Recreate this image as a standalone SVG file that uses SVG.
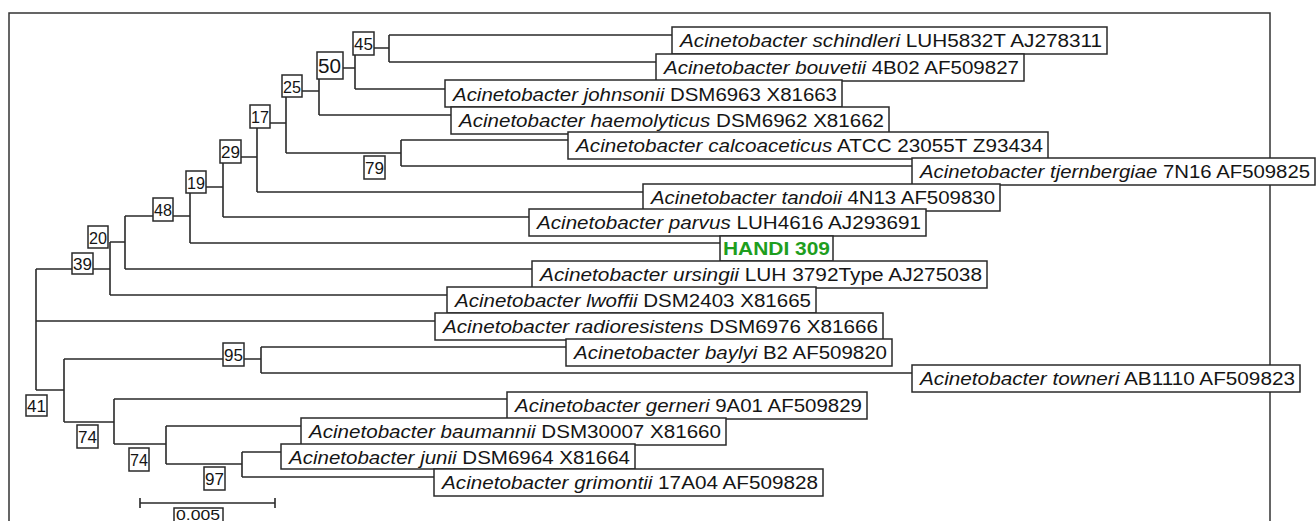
<svg xmlns="http://www.w3.org/2000/svg" width="1316" height="521" viewBox="0 0 1316 521">
<style>
.ln{fill:none;stroke:#2a2a2a;stroke-width:1.6}
.bx{fill:#fff;stroke:#2a2a2a;stroke-width:1.5}
.lf{font-family:"Liberation Sans",Arial,sans-serif;font-size:18px;fill:#151515}
.it{font-style:italic}
.bs{font-family:"Liberation Sans",Arial,sans-serif;font-size:17px;fill:#151515}
.hd{font-family:"Liberation Sans",Arial,sans-serif;font-size:18px;font-weight:bold;fill:#1e9e1e}
</style>
<rect x="0" y="0" width="1316" height="521" fill="#fff"/>
<rect id="frame" x="9" y="13" width="1261" height="600" fill="none" stroke="#333" stroke-width="1.5"/>
<g id="connectors" class="ln">
<path d="M36 269 V390"/>
<path d="M36 269 H110 M110 242 V295"/>
<path d="M110 242 H125 M125 216 V269"/>
<path d="M125 216 H190 M190 187 V243"/>
<path d="M190 187 H223 M223 157 V217"/>
<path d="M223 157 H257 M257 123 V192"/>
<path d="M257 123 H286 M286 91 V153"/>
<path d="M286 91 H319 M319 68 V115"/>
<path d="M319 68 H355 M355 48 V89"/>
<path d="M355 48 H389 M389 35 V62"/>
<path d="M286 153 H401 M401 140 V166"/>
<path d="M389 35 H672 M389 62 H656 M355 89 H445 M319 115 H451 M401 140 H568 M401 166 H912 M257 192 H643 M223 217 H529 M190 243 H720 M125 269 H532 M110 295 H447 M36 321 H435"/>
<path d="M36 390 H64 M64 359 V422"/>
<path d="M64 359 H261 M261 347 V373"/>
<path d="M261 347 H566 M261 373 H912"/>
<path d="M64 422 H114 M114 399 V444 M114 399 H507"/>
<path d="M114 444 H166 M166 426 V464 M166 426 H301"/>
<path d="M166 464 H242 M242 452 V477 M242 452 H281 M242 477 H434"/>
</g>
<g id="scalebar" class="ln">
<path d="M140 503 H275 M140 498 V508 M275 498 V508"/>
</g>
<g id="scale-label"><rect class="bx" x="174" y="508" width="49" height="24"/><text class="bs" x="176" y="520" style="font-size:14px" textLength="44" lengthAdjust="spacingAndGlyphs">0.005</text></g>

<g id="leaf-schindleri"><rect class="bx" x="672" y="27" width="435" height="27"/><text class="lf" x="680" y="47" textLength="422" lengthAdjust="spacingAndGlyphs"><tspan class="it">Acinetobacter schindleri</tspan> LUH5832T AJ278311</text></g>
<g id="leaf-bouvetii"><rect class="bx" x="656" y="54" width="368" height="27"/><text class="lf" x="664" y="74" textLength="355" lengthAdjust="spacingAndGlyphs"><tspan class="it">Acinetobacter bouvetii</tspan> 4B02 AF509827</text></g>
<g id="leaf-johnsonii"><rect class="bx" x="445" y="80" width="397" height="27"/><text class="lf" x="453" y="101" textLength="384" lengthAdjust="spacingAndGlyphs"><tspan class="it">Acinetobacter johnsonii</tspan> DSM6963 X81663</text></g>
<g id="leaf-haemolyticus"><rect class="bx" x="451" y="107" width="438" height="27"/><text class="lf" x="459" y="127" textLength="425" lengthAdjust="spacingAndGlyphs"><tspan class="it">Acinetobacter haemolyticus</tspan> DSM6962 X81662</text></g>
<g id="leaf-calcoaceticus"><rect class="bx" x="568" y="132" width="480" height="27"/><text class="lf" x="576" y="152" textLength="467" lengthAdjust="spacingAndGlyphs"><tspan class="it">Acinetobacter calcoaceticus</tspan> ATCC 23055T Z93434</text></g>
<g id="leaf-tjernbergiae"><rect class="bx" x="912" y="158" width="403" height="27"/><text class="lf" x="920" y="178" textLength="390" lengthAdjust="spacingAndGlyphs"><tspan class="it">Acinetobacter tjernbergiae</tspan> 7N16 AF509825</text></g>
<g id="leaf-tandoii"><rect class="bx" x="643" y="184" width="357" height="27"/><text class="lf" x="651" y="204" textLength="344" lengthAdjust="spacingAndGlyphs"><tspan class="it">Acinetobacter tandoii</tspan> 4N13 AF509830</text></g>
<g id="leaf-parvus"><rect class="bx" x="529" y="209" width="397" height="27"/><text class="lf" x="537" y="229" textLength="384" lengthAdjust="spacingAndGlyphs"><tspan class="it">Acinetobacter parvus</tspan> LUH4616 AJ293691</text></g>
<g id="leaf-handi309"><rect class="bx" x="720" y="236" width="113" height="25"/><text class="hd" x="723" y="255" textLength="107" lengthAdjust="spacingAndGlyphs">HANDI 309</text></g>
<g id="leaf-ursingii"><rect class="bx" x="532" y="261" width="455" height="27"/><text class="lf" x="540" y="281" textLength="442" lengthAdjust="spacingAndGlyphs"><tspan class="it">Acinetobacter ursingii</tspan> LUH 3792Type AJ275038</text></g>
<g id="leaf-lwoffii"><rect class="bx" x="447" y="287" width="369" height="26"/><text class="lf" x="455" y="307" textLength="356" lengthAdjust="spacingAndGlyphs"><tspan class="it">Acinetobacter lwoffii</tspan> DSM2403 X81665</text></g>
<g id="leaf-radioresistens"><rect class="bx" x="435" y="313" width="448" height="27"/><text class="lf" x="443" y="333" textLength="435" lengthAdjust="spacingAndGlyphs"><tspan class="it">Acinetobacter radioresistens</tspan> DSM6976 X81666</text></g>
<g id="leaf-baylyi"><rect class="bx" x="566" y="339" width="326" height="27"/><text class="lf" x="574" y="359" textLength="313" lengthAdjust="spacingAndGlyphs"><tspan class="it">Acinetobacter baylyi</tspan> B2 AF509820</text></g>
<g id="leaf-towneri"><rect class="bx" x="912" y="365" width="388" height="27"/><text class="lf" x="920" y="385" textLength="375" lengthAdjust="spacingAndGlyphs"><tspan class="it">Acinetobacter towneri</tspan> AB1110 AF509823</text></g>
<g id="leaf-gerneri"><rect class="bx" x="507" y="392" width="360" height="27"/><text class="lf" x="515" y="412" textLength="347" lengthAdjust="spacingAndGlyphs"><tspan class="it">Acinetobacter gerneri</tspan> 9A01 AF509829</text></g>
<g id="leaf-baumannii"><rect class="bx" x="301" y="418" width="425" height="27"/><text class="lf" x="309" y="438" textLength="412" lengthAdjust="spacingAndGlyphs"><tspan class="it">Acinetobacter baumannii</tspan> DSM30007 X81660</text></g>
<g id="leaf-junii"><rect class="bx" x="281" y="444" width="354" height="25"/><text class="lf" x="289" y="464" textLength="341" lengthAdjust="spacingAndGlyphs"><tspan class="it">Acinetobacter junii</tspan> DSM6964 X81664</text></g>
<g id="leaf-grimontii"><rect class="bx" x="434" y="469" width="389" height="27"/><text class="lf" x="442" y="489" textLength="376" lengthAdjust="spacingAndGlyphs"><tspan class="it">Acinetobacter grimontii</tspan> 17A04 AF509828</text></g>

<g id="bs-45"><rect class="bx" x="353" y="32" width="21" height="23"/><text class="bs" x="354" y="50" textLength="19" lengthAdjust="spacingAndGlyphs">45</text></g>
<g id="bs-50"><rect class="bx" x="317" y="52" width="26" height="27"/><text class="bs" x="318" y="73" style="font-size:20px" textLength="23" lengthAdjust="spacingAndGlyphs">50</text></g>
<g id="bs-25"><rect class="bx" x="282" y="75" width="20" height="22"/><text class="bs" x="283" y="93" textLength="18" lengthAdjust="spacingAndGlyphs">25</text></g>
<g id="bs-17"><rect class="bx" x="250" y="105" width="20" height="23"/><text class="bs" x="251" y="123" textLength="18" lengthAdjust="spacingAndGlyphs">17</text></g>
<g id="bs-79"><rect class="bx" x="364" y="156" width="21" height="23"/><text class="bs" x="365" y="174" textLength="19" lengthAdjust="spacingAndGlyphs">79</text></g>
<g id="bs-29"><rect class="bx" x="220" y="140" width="21" height="23"/><text class="bs" x="221" y="158" textLength="19" lengthAdjust="spacingAndGlyphs">29</text></g>
<g id="bs-19"><rect class="bx" x="186" y="171" width="20" height="22"/><text class="bs" x="187" y="189" textLength="18" lengthAdjust="spacingAndGlyphs">19</text></g>
<g id="bs-48"><rect class="bx" x="153" y="198" width="20" height="23"/><text class="bs" x="154" y="216" textLength="18" lengthAdjust="spacingAndGlyphs">48</text></g>
<g id="bs-20"><rect class="bx" x="88" y="226" width="20" height="22"/><text class="bs" x="89" y="244" textLength="18" lengthAdjust="spacingAndGlyphs">20</text></g>
<g id="bs-39"><rect class="bx" x="72" y="253" width="21" height="21"/><text class="bs" x="73" y="270" textLength="19" lengthAdjust="spacingAndGlyphs">39</text></g>
<g id="bs-41"><rect class="bx" x="26" y="395" width="21" height="21"/><text class="bs" x="27" y="412" textLength="19" lengthAdjust="spacingAndGlyphs">41</text></g>
<g id="bs-95"><rect class="bx" x="223" y="343" width="21" height="23"/><text class="bs" x="224" y="361" textLength="19" lengthAdjust="spacingAndGlyphs">95</text></g>
<g id="bs-74a"><rect class="bx" x="77" y="425" width="21" height="23"/><text class="bs" x="78" y="443" textLength="19" lengthAdjust="spacingAndGlyphs">74</text></g>
<g id="bs-74b"><rect class="bx" x="129" y="448" width="20" height="23"/><text class="bs" x="130" y="466" textLength="18" lengthAdjust="spacingAndGlyphs">74</text></g>
<g id="bs-97"><rect class="bx" x="204" y="467" width="21" height="23"/><text class="bs" x="205" y="485" textLength="19" lengthAdjust="spacingAndGlyphs">97</text></g>
</svg>
